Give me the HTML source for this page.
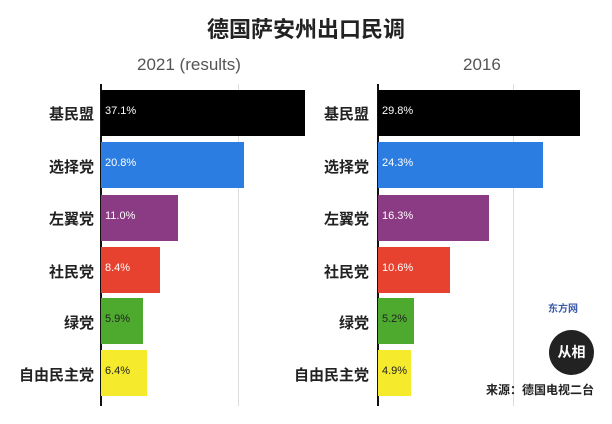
<!DOCTYPE html>
<html><head><meta charset="utf-8"><style>
body{margin:0;width:612px;height:424px;background:#fff;position:relative;overflow:hidden;font-family:"Liberation Sans","Noto Sans CJK SC",sans-serif}
.a{position:absolute}
.t{font-weight:bold;font-size:22px;color:#222;left:0;width:612px;text-align:center;top:12px}
.h{font-size:17px;color:#555;top:55px}
.lab{font-weight:bold;font-size:15px;color:#222;text-align:right;width:90px}
.bar{height:46px}
.v{font-size:11px;color:#fff;position:absolute;left:4px;top:15px}
.ax{width:2px;background:#111;top:84px;height:322px}
.g{width:1px;background:#ddd;top:84px;height:322px}
</style></head><body>
<div class="a t">德国萨安州出口民调</div>
<div class="a h" style="left:137px">2021 (results)</div>
<div class="a h" style="left:463px">2016</div>
<div class="a g" style="left:238px"></div>
<div class="a g" style="left:513px"></div>
<div class="a ax" style="left:100px"></div>
<div class="a ax" style="left:377px"></div>

<div class="a lab" style="left:4px;top:103px">基民盟</div>
<div class="a lab" style="left:4px;top:156px">选择党</div>
<div class="a lab" style="left:4px;top:208px">左翼党</div>
<div class="a lab" style="left:4px;top:261px">社民党</div>
<div class="a lab" style="left:4px;top:312px">绿党</div>
<div class="a lab" style="left:4px;top:364px">自由民主党</div>
<div class="a lab" style="left:279px;top:103px">基民盟</div>
<div class="a lab" style="left:279px;top:156px">选择党</div>
<div class="a lab" style="left:279px;top:208px">左翼党</div>
<div class="a lab" style="left:279px;top:261px">社民党</div>
<div class="a lab" style="left:279px;top:312px">绿党</div>
<div class="a lab" style="left:279px;top:364px">自由民主党</div>

<div class="a bar" style="left:101px;top:90px;width:204px;background:#000"><span class="v">37.1%</span></div>
<div class="a bar" style="left:101px;top:142px;width:143px;background:#2b7de1"><span class="v">20.8%</span></div>
<div class="a bar" style="left:101px;top:195px;width:77px;background:#8b3b83"><span class="v">11.0%</span></div>
<div class="a bar" style="left:101px;top:247px;width:59px;background:#e6422f"><span class="v">8.4%</span></div>
<div class="a bar" style="left:101px;top:298px;width:42px;background:#4ea92f"><span class="v" style="color:#222">5.9%</span></div>
<div class="a bar" style="left:101px;top:350px;width:46px;background:#f6ea2c"><span class="v" style="color:#222">6.4%</span></div>

<div class="a bar" style="left:378px;top:90px;width:202px;background:#000"><span class="v">29.8%</span></div>
<div class="a bar" style="left:378px;top:142px;width:165px;background:#2b7de1"><span class="v">24.3%</span></div>
<div class="a bar" style="left:378px;top:195px;width:111px;background:#8b3b83"><span class="v">16.3%</span></div>
<div class="a bar" style="left:378px;top:247px;width:72px;background:#e6422f"><span class="v">10.6%</span></div>
<div class="a bar" style="left:378px;top:298px;width:36px;background:#4ea92f"><span class="v" style="color:#222">5.2%</span></div>
<div class="a bar" style="left:378px;top:350px;width:33px;background:#f6ea2c"><span class="v" style="color:#222">4.9%</span></div>

<div class="a" style="left:548px;top:300px;font-size:10px;color:#3a5aa8;font-weight:bold">东方网</div>
<div class="a" style="left:549px;top:330px;width:45px;height:45px;border-radius:50%;background:#222;color:#fff;font-weight:bold;font-size:14px;text-align:center;line-height:45px">从相</div>
<div class="a" style="left:486px;top:381px;font-size:12px;font-weight:bold;color:#222">来源：德国电视二台</div>
</body></html>
